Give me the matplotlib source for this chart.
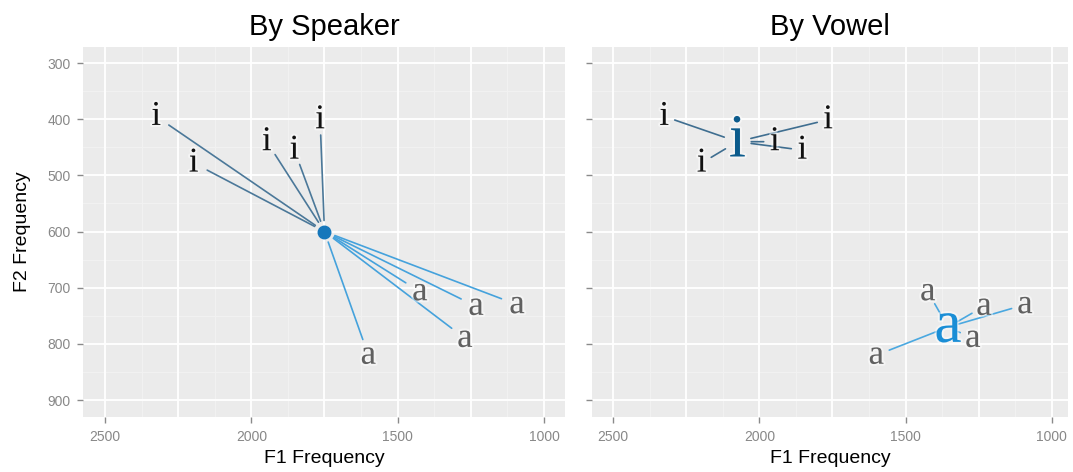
import matplotlib
matplotlib.use("Agg")
import matplotlib.pyplot as plt
import matplotlib.patheffects as pe
import numpy as np

# Tokens de cada hablante (F1, F2)
i_f1 = [2325, 2197, 1947, 1853, 1765]
i_f2 = [395, 478, 440, 455, 401]
a_f1 = [1424, 1232, 1092, 1270, 1600]
a_f2 = [707, 733, 730, 790, 820]

# Centro del hablante y medias por vocal
centro_f1 = 1750
centro_f2 = 600
media_i_f1, media_i_f2 = 2075, 440
media_a_f1, media_a_f2 = 1355, 770

x_ticks = [2500, 2000, 1500, 1000]
y_ticks = [300, 400, 500, 600, 700, 800, 900]

plt.rcParams['font.family'] = ['Liberation Sans', 'DejaVu Sans']
serif = ['Liberation Serif', 'DejaVu Serif']
halo = [pe.withStroke(linewidth=3, foreground='white', alpha=0.45)]

fig = plt.figure(figsize=(10.73, 4.72), dpi=100)
ax1 = fig.add_axes([0.0774, 0.1165, 0.4492, 0.7839])
ax2 = fig.add_axes([0.5517, 0.1165, 0.4436, 0.7839])


def estilo(ax, xlim):
    ax.set_facecolor('#EBEBEB')
    for s in ax.spines.values():
        s.set_visible(False)
    ax.set_xlim(xlim)
    ax.set_ylim(930, 271.5)
    # rejilla: lineas fuertes cada 250/100, suaves entre medias
    for v in np.arange(875, 2750, 125):
        if v % 250 == 0:
            ax.axvline(v, color='white', lw=1.3, zorder=0.6)
        else:
            ax.axvline(v, color='#F2F2F2', lw=0.7, zorder=0.5)
    for v in np.arange(250, 1000, 50):
        if v % 100 == 0:
            ax.axhline(v, color='white', lw=1.3, zorder=0.6)
        else:
            ax.axhline(v, color='#F2F2F2', lw=0.7, zorder=0.5)
    ax.set_xticks(x_ticks)
    ax.set_yticks(y_ticks)
    ax.tick_params(color='#8a8a8a', labelcolor='#888888', labelsize=10,
                   length=4, width=1, pad=5)
    ax.set_xlabel('F1 Frequency', fontsize=14, labelpad=5)


estilo(ax1, (2575, 928))
estilo(ax2, (2572, 945))
ax1.set_ylabel('F2 Frequency', fontsize=14, labelpad=12)
ax2.tick_params(labelleft=False)
ax1.set_title('By Speaker', fontsize=21, pad=9)
ax2.set_title('By Vowel', fontsize=21, pad=9)

# Panel izquierdo: del centro del hablante a cada token
for x, y in zip(i_f1, i_f2):
    ax1.annotate('', xy=(x, y), xytext=(centro_f1, centro_f2),
                 arrowprops=dict(arrowstyle='-', color='#4b7899', lw=1.2,
                                 shrinkA=8, shrinkB=11), zorder=2)
    ax1.text(x, y, 'i', family=serif, fontsize=25, color='#111111',
             ha='center', va='center', zorder=3, path_effects=halo)
for x, y in zip(a_f1, a_f2):
    ax1.annotate('', xy=(x, y), xytext=(centro_f1, centro_f2),
                 arrowprops=dict(arrowstyle='-', color='#45a2dc', lw=1.2,
                                 shrinkA=8, shrinkB=12), zorder=2)
    ax1.text(x, y, 'a', family=serif, fontsize=25, color='#606060',
             ha='center', va='center', zorder=3, path_effects=halo)
ax1.plot(centro_f1, centro_f2, 'o', color='#1677bb', markersize=9, zorder=4)

# Panel derecho: de cada token a la media de su vocal
for x, y in zip(i_f1, i_f2):
    ax2.annotate('', xy=(media_i_f1, media_i_f2), xytext=(x, y),
                 arrowprops=dict(arrowstyle='-', color='#3f6e90', lw=1.2,
                                 shrinkA=8, shrinkB=10), zorder=2)
    ax2.text(x, y, 'i', family=serif, fontsize=25, color='#111111',
             ha='center', va='center', zorder=3, path_effects=halo)
for x, y in zip(a_f1, a_f2):
    ax2.annotate('', xy=(media_a_f1, media_a_f2), xytext=(x, y),
                 arrowprops=dict(arrowstyle='-', color='#4aa8e0', lw=1.2,
                                 shrinkA=10, shrinkB=8), zorder=2)
    ax2.text(x, y, 'a', family=serif, fontsize=25, color='#606060',
             ha='center', va='center', zorder=3, path_effects=halo)
ax2.text(media_i_f1, media_i_f2, 'i', family=serif, fontsize=44,
         color='#0b5b8c', ha='center', va='center', zorder=4, path_effects=halo)
ax2.text(media_a_f1, media_a_f2, 'a', family=serif, fontsize=44,
         color='#1a8ed6', ha='center', va='center', zorder=4, path_effects=halo)

fig.savefig('out.png', dpi=100)
